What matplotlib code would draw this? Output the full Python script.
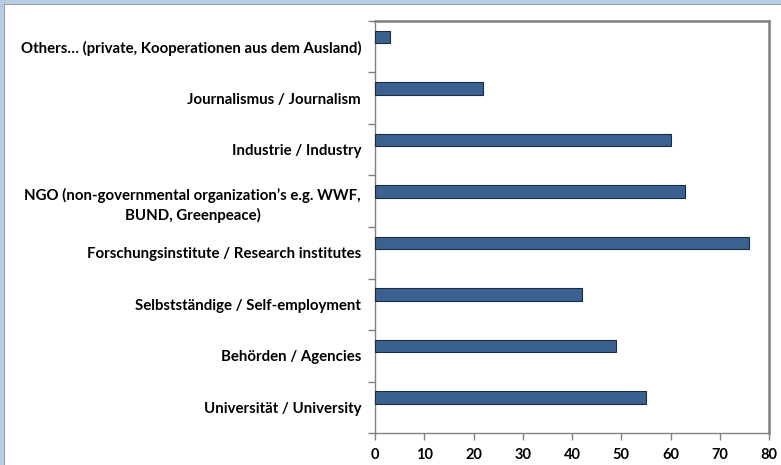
import numpy as np
import matplotlib
matplotlib.use("Agg")
import matplotlib.pyplot as plt
from matplotlib.patches import Rectangle

plt.rcParams['font.family'] = ['Lato', 'DejaVu Sans']

# Kategorien von oben nach unten
categories = [
    "Others… (private, Kooperationen aus dem Ausland)",
    "Journalismus / Journalism",
    "Industrie / Industry",
    "NGO (non-governmental organization’s e.g. WWF,\nBUND, Greenpeace)",
    "Forschungsinstitute / Research institutes",
    "Selbstständige / Self-employment",
    "Behörden / Agencies",
    "Universität / University",
]
values = [3, 22, 60, 63, 76, 42, 49, 55]
x_ticks = [0, 10, 20, 30, 40, 50, 60, 70, 80]

fig = plt.figure(figsize=(7.81, 4.65), dpi=100)
fig.patch.set_facecolor("white")

# Fensterrand (oben und links)
fig.patches.append(Rectangle((0, 1 - 4 / 465), 1, 4 / 465, transform=fig.transFigure,
                             facecolor="#b7cce4", edgecolor="none", zorder=0))
fig.patches.append(Rectangle((0, 1 - 5 / 465), 1, 1.2 / 465, transform=fig.transFigure,
                             facecolor="#9a9a9a", edgecolor="none", zorder=0))
fig.patches.append(Rectangle((0, 0), 4 / 781, 1, transform=fig.transFigure,
                             facecolor="#b7cce4", edgecolor="none", zorder=0))
fig.patches.append(Rectangle((4 / 781, 0), 1.2 / 781, 1 - 4 / 465, transform=fig.transFigure,
                             facecolor="#9a9a9a", edgecolor="none", zorder=0))

ax = fig.add_axes([375 / 781, 32 / 465, (769 - 375) / 781, (433 - 21) / 465])

n = len(categories)
pos = np.arange(n)[::-1]
ax.barh(pos + 0.19, values, height=0.24, color="#3a6190", edgecolor="#1c2b40",
        linewidth=0.8, zorder=3)

ax.set_xlim(0, 80)
ax.set_ylim(-0.5, n - 0.5)
ax.set_xticks(x_ticks)
ax.set_xticklabels([str(t) for t in x_ticks], fontsize=10.5, fontweight="bold")

# Striche zwischen den Kategorien, Beschriftung in der Mitte
ax.set_yticks(np.arange(-0.5, n, 1.0))
ax.set_yticklabels([])
ax.set_yticks(pos, minor=True)
ax.set_yticklabels(categories, minor=True, fontsize=10.8, fontweight="bold",
                   multialignment="center", linespacing=1.45)
ax.tick_params(axis="y", which="minor", length=0, pad=10)
ax.tick_params(axis="y", which="major", length=5, color="#808080", width=1)
ax.tick_params(axis="x", length=5, color="#808080", width=1, pad=6)

for side in ["left", "bottom"]:
    ax.spines[side].set_color("#808080")
    ax.spines[side].set_linewidth(1)
for side in ["top", "right"]:
    ax.spines[side].set_color("#7f7f7f")
    ax.spines[side].set_linewidth(1.8)

fig.savefig("out.png", dpi=100)
